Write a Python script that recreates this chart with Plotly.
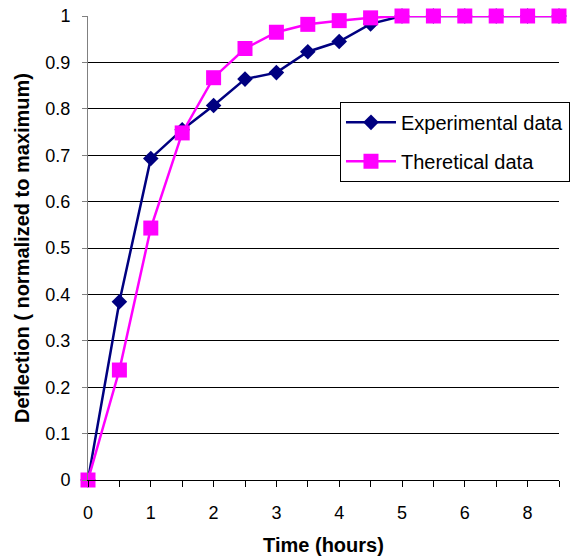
import plotly.graph_objects as go

# Category labels of the time axis (Excel-style category axis, one label every 2 categories)
time_categories = ["0", "0.5", "1", "1.5", "2", "2.5", "3", "3.5", "4", "4.5",
                   "5", "5.5", "6", "7", "8", "9"]
tick_labels = ["0", "", "1", "", "2", "", "3", "", "4", "", "5", "", "6", "", "8", ""]

experimental = [0.0, 0.384, 0.693, 0.755, 0.807, 0.864, 0.878, 0.923, 0.945, 0.983,
                1.0, 1.0, 1.0, 1.0, 1.0, 1.0]
theoretical = [0.0, 0.237, 0.543, 0.748, 0.867, 0.930, 0.965, 0.982, 0.990, 0.996,
               1.0, 1.0, 1.0, 1.0, 1.0, 1.0]

y_ticks = [0, 0.1, 0.2, 0.3, 0.4, 0.5, 0.6, 0.7, 0.8, 0.9, 1]

x_idx = list(range(len(time_categories)))
FONT = "Liberation Sans, Arial, sans-serif"

fig = go.Figure()
fig.add_trace(go.Scatter(
    x=x_idx, y=experimental, name="Experimental data", mode="lines+markers",
    legendgroup="exp",
    line=dict(color="#000080", width=2.5),
    marker=dict(symbol="diamond", size=12, color="#000080"),
    cliponaxis=False,
))
fig.add_trace(go.Scatter(
    x=x_idx, y=theoretical, name="Theretical data", mode="lines+markers",
    legendgroup="theo",
    line=dict(color="#FF00FF", width=2.5),
    marker=dict(symbol="square", size=15, color="#FF00FF"),
    cliponaxis=False,
))

fig.update_layout(
    width=579, height=559,
    margin=dict(l=88, r=20, t=16, b=79, autoexpand=False),
    paper_bgcolor="white", plot_bgcolor="white",
    font=dict(family=FONT, size=18, color="black"),
    showlegend=True,
    legend=dict(
        x=0.535, y=0.815, xanchor="left", yanchor="top",
        bordercolor="black", borderwidth=1, bgcolor="white",
        font=dict(size=20, family=FONT),
        itemwidth=50, tracegroupgap=10,
    ),
)

fig.update_xaxes(
    range=[0, len(time_categories) - 1],
    tickmode="array", tickvals=x_idx, ticktext=tick_labels,
    ticks="outside", ticklen=6, tickcolor="black", tickwidth=1,
    showline=True, linecolor="black", linewidth=1,
    showgrid=False, zeroline=False, automargin=False,
    ticklabelstandoff=10,
    tickfont=dict(size=18),
    title=dict(text="<b>Time (hours)</b>", font=dict(size=20), standoff=16),
)
fig.update_yaxes(
    range=[0, 1],
    tickmode="array", tickvals=y_ticks, ticktext=[str(v) for v in y_ticks],
    ticks="outside", ticklen=5, tickcolor="#808080", tickwidth=1,
    showline=True, linecolor="#808080", linewidth=1,
    showgrid=True, gridcolor="black", gridwidth=1,
    zeroline=False, automargin=False,
    ticklabelstandoff=8,
    tickfont=dict(size=18),
    title=dict(text="<b>Deflection ( normalized to maximum)</b>", font=dict(size=20), standoff=10),
)

fig.write_html("out.html")
